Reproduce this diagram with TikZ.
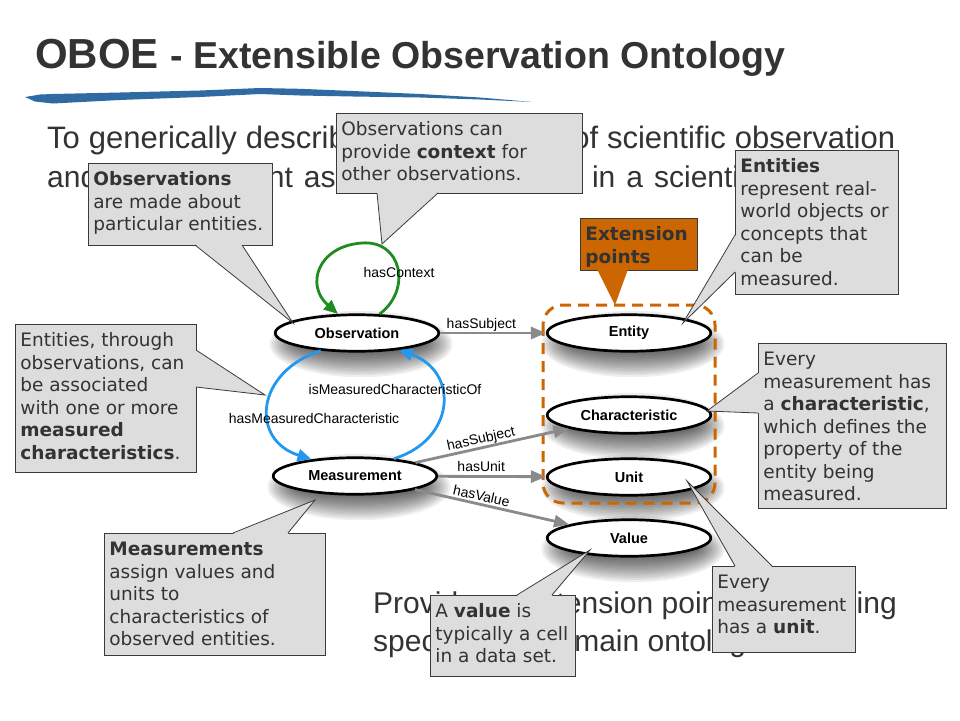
\documentclass[tikz,border=0pt]{standalone}
\usepackage{fontspec}
\setmainfont{Liberation Sans}
\newfontfamily\callfont{DejaVu Sans}
\usetikzlibrary{shapes.geometric,arrows.meta,calc}
\pgfdeclarelayer{shadowlayer}
\pgfsetlayers{shadowlayer,main}
\definecolor{txt}{HTML}{333333}
\definecolor{callfill}{HTML}{DDDDDD}
\definecolor{callline}{HTML}{3A3A3A}
\definecolor{extorange}{HTML}{CC6600}
\definecolor{edgegray}{HTML}{8A8A8A}
\definecolor{ctxgreen}{HTML}{1E8C1E}
\definecolor{mcblue}{HTML}{2299EE}
\definecolor{brushblue}{HTML}{2F6AA3}
\newcommand{\cbox}[3]{\parbox[c][#2pt][t]{#1pt}{\raggedright\leftskip=5pt\relax\vspace*{6.5pt}\strut #3}}
\tikzset{
 bodytext/.style={anchor=base west, inner sep=0pt, text=txt, font=\fontsize{30}{36}\selectfont},
 concept/.style={ellipse, draw=black, line width=2.7pt, fill=white, minimum width=163.5pt, minimum height=36.5pt, inner sep=0pt, font=\bfseries\fontsize{14.5}{16}\selectfont},
 grayedge/.style={draw=edgegray, line width=2.8pt, -{Triangle[length=15pt,width=12pt]}},
 ctxedge/.style={draw=ctxgreen, line width=2.8pt, -{Triangle[length=14pt,width=12pt]}},
 mcedge/.style={draw=mcblue, line width=2.8pt, -{Triangle[length=14pt,width=12pt]}},
 elabel/.style={inner sep=0pt, text=black, font=\fontsize{14}{16}\selectfont},
 callshape/.style={draw=callline, line width=0.8pt, fill=callfill, inner sep=0pt, anchor=north west, text=txt, font=\callfont\fontsize{18.5}{22.5}\selectfont},
 extshape/.style={callshape, fill=extorange, font=\callfont\bfseries\fontsize{18.5}{22.5}\selectfont},
 ptrline/.style={draw=callline, line width=0.8pt},
}
\begin{document}
\begin{tikzpicture}[x=1pt,y=-1pt]
\useasboundingbox (0,0) rectangle (960,720);
% title
\node[anchor=base west, inner sep=0pt, text=txt] (title) at (35,68) {\bfseries\fontsize{42}{42}\selectfont OBOE \fontsize{37.5}{37.5}\selectfont - Extensible Observation Ontology};
% brush stroke
\fill[brushblue] (25,97) -- (40,94.5) -- (53,94) -- (120,92.5) -- (200,90.5) -- (260,88) -- (300,88.8) -- (353,91) -- (420,94) -- (480,97.5) -- (532,102) -- (480,99.5) -- (420,97.5) -- (353,96.5) -- (300,95.5) -- (260,94) -- (200,97) -- (120,100) -- (53,103.5) -- (35,101.5) -- cycle;
% body text
\node[bodytext, font=\fontsize{31}{36}\selectfont] (intro1) at (47,148) {\makebox[848pt][s]{To generically describe the semantics of scientific \underline{observation}}};
\node[bodytext] (intro2) at (47,187) {and\hspace{4pt} {\spaceskip=11pt\relax measurement associated with data in a scientific context}};
\node[bodytext] (extA) at (373,613) {Provide an extension point for including};
\node[bodytext] (extB) at (373,651) {specific sub\hspace{1pt}-domain ontologies};
% extension region
\draw[extorange, line width=3pt, dash pattern=on 11pt off 7pt, rounded corners=20pt] (543,305) rectangle (715,503);
% concepts
\node[concept] (obs) at (357,333) {Observation};
\node[concept] (meas) at (355,476) {Measurement};
\node[concept] (ent) at (629,333) {Entity};
\node[concept] (chr) at (629,415) {Characteristic};
\node[concept] (unt) at (629,477) {Unit};
\node[concept] (val) at (629,538) {Value};
% shadows
\begin{pgfonlayer}{shadowlayer}
\fill[white] (0,0) rectangle (960,720);
\foreach \n in {obs,meas,ent,chr,unt,val}{
  \foreach \k in {0,...,11}{
    \fill[black, opacity=0.065] ($(\n.center)+(4,11)$) ellipse ({64+2.5*\k} and {9+2.2*\k});
  }
}
\end{pgfonlayer}
% relations
\draw[grayedge] (obs) -- node[elabel, pos=0.39, above=0pt] (l1) {hasSubject} (ent);
\draw[grayedge] (meas) -- node[elabel, pos=0.44, sloped, above=0pt] (l2) {hasSubject} (chr);
\draw[grayedge] (meas) -- node[elabel, pos=0.4, above=3pt] (l3) {hasUnit} (unt);
\draw[grayedge] (meas) -- node[elabel, pos=0.42, sloped, above=2pt] (l4) {hasValue} (val);
\draw[ctxedge] (obs.40) .. controls (412,290) and (402,240) .. (362,243) .. controls (318,246) and (305,285) .. (obs.135);
\draw[mcedge] (obs.206) .. controls (255,372) and (250,440) .. (meas.159);
\draw[mcedge] (meas.24) .. controls (455,440) and (460,372) .. (obs.338);
\node[elabel] (lctx) at (399,272) {hasContext};
\node[elabel] (lismc) at (395,389) {isMeasuredCharacteristicOf};
\node[elabel] (lhasmc) at (314,418) {hasMeasuredCharacteristic};
% pointer tips
\coordinate (t1) at ($(obs.center)+(-64,-10)$);
\coordinate (t2) at ($(obs.center)+(25,-89)$);
\coordinate (t3) at ($(ent.center)+(54,-10)$);
\coordinate (t4) at ($(ent.center)+(-14,-28)$);
\coordinate (t5) at ($(meas.center)+(-90,-81)$);
\coordinate (t6) at ($(meas.center)+(-40,24)$);
\coordinate (t7) at ($(val.center)+(-39,12)$);
\coordinate (t8) at ($(unt.center)+(58,4)$);
\coordinate (t9) at ($(chr.center)+(78,-4)$);
% callout 1
\node[callshape] (obsnote) at (88,163) {\cbox{184}{82}{\textbf{Observations}\\are made about\\particular entities.}};
\fill[callfill] (195,244.2) -- (t1) -- (242,244.2) -- cycle;
\draw[ptrline] (195,245) -- (t1) -- (242,245);
% callout 2
\node[callshape] (ctxnote) at (336,113) {\cbox{246}{80}{Observations can\\provide \textbf{context} for\\other observations.}};
\fill[callfill] (377,192.2) -- (t2) -- (438,192.2) -- cycle;
\draw[ptrline] (377,193) -- (t2) -- (438,193);
% callout 3
\node[callshape] (entnote) at (735,150) {\cbox{163}{144}{\textbf{Entities}\\represent real-\\world objects or\\concepts that\\can be\\measured.}};
\fill[callfill] (735.8,235) -- (t3) -- (735.8,272) -- cycle;
\draw[ptrline] (735,235) -- (t3) -- (735,272);
% extension points
\node[extshape] (extnote) at (580,218) {\cbox{117}{52}{Extension\\points}};
\fill[extorange] (597,269.2) -- (t4) -- (628,269.2) -- cycle;
% callout 5
\node[callshape] (assocnote) at (15,324) {\cbox{181}{148}{Entities, through\\observations, can\\be associated\\with one or more\\\textbf{measured}\\\textbf{characteristics}.}};
\fill[callfill] (195.2,350) -- (t5) -- (195.2,387) -- cycle;
\draw[ptrline] (196,350) -- (t5) -- (196,387);
% callout 6
\node[callshape] (measnote) at (104,533) {\cbox{221}{122}{\textbf{Measurements}\\assign values and\\units to\\characteristics of\\observed entities.}};
\fill[callfill] (233,533.8) -- (t6) -- (288,533.8) -- cycle;
\draw[ptrline] (233,533) -- (t6) -- (288,533);
% callout 7
\node[callshape] (valnote) at (430,595) {\cbox{145}{81}{A \textbf{value} is\\typically a cell\\in a data set.}};
\fill[callfill] (517,595.8) -- (t7) -- (552,595.8) -- cycle;
\draw[ptrline] (517,595) -- (t7) -- (552,595);
% callout 8
\node[callshape] (unitnote) at (712,566) {\cbox{143}{86}{Every\\measurement\\has a \textbf{unit}.}};
\fill[callfill] (735,566.8) -- (t8) -- (772,566.8) -- cycle;
\draw[ptrline] (735,566) -- (t8) -- (772,566);
% callout 9
\node[callshape] (charnote) at (758,343) {\cbox{188}{165}{Every\\measurement has\\a \textbf{characteristic},\\which defines the\\property of the\\entity being\\measured.}};
\fill[callfill] (758.8,373) -- (t9) -- (758.8,413) -- cycle;
\draw[ptrline] (758,373) -- (t9) -- (758,413);
\end{tikzpicture}
\end{document}
